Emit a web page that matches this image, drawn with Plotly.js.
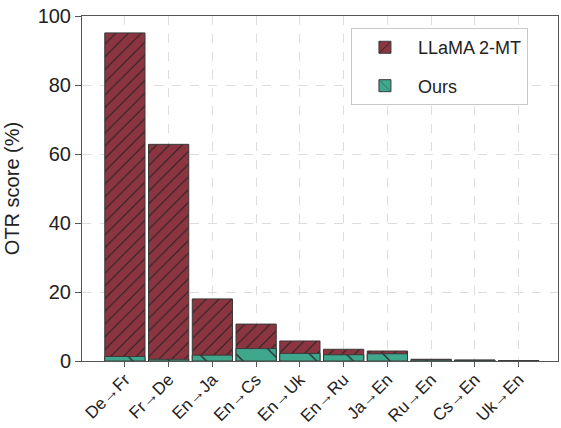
<!DOCTYPE html>
<html><head><meta charset="utf-8">
<script src="https://cdn.plot.ly/plotly-3.0.1.min.js"></script>
<style>body{margin:0;padding:0;background:#fff}#c{width:561px;height:428px}</style>
</head><body><div id="c"></div>
<script>
const categories = ["De→Fr","Fr→De","En→Ja","En→Cs","En→Uk","En→Ru","Ja→En","Ru→En","Cs→En","Uk→En"];
const llamaValues = [95.1, 62.8, 18.0, 10.7, 5.8, 3.4, 2.9, 0.5, 0.3, 0.1];
const oursValues = [1.3, 0.5, 1.7, 3.6, 2.2, 1.8, 2.1, 0.3, 0.2, 0.05];
const yTicks = [0, 20, 40, 60, 80, 100];

const font = "Liberation Sans, Arial, sans-serif";
const traces = [
  {type:"bar", name:"LLaMA 2-MT", legendgroup:"g1", x:categories, y:llamaValues, width:0.92,
   marker:{color:"#8b3540", line:{color:"#3a3a3a", width:1},
     pattern:{shape:"/", size:9, solidity:0.12, bgcolor:"#8b3540", fgcolor:"#1e1e1e", fgopacity:0.9}}},
  {type:"bar", name:"Ours", legendgroup:"g2", x:categories, y:oursValues, width:0.92,
   marker:{color:"#3fa78c", line:{color:"#3a3a3a", width:1},
     pattern:{shape:"\\", size:26, solidity:0.05, bgcolor:"#3fa78c", fgcolor:"#1e1e1e", fgopacity:0.9}}}
];
const layout = {
  width:561, height:428, barmode:"overlay",
  margin:{l:82, r:3, t:16, b:67},
  paper_bgcolor:"#fff", plot_bgcolor:"#fff",
  font:{family:font, color:"#222", size:18},
  showlegend:true,
  legend:{x:0.565, y:0.965, xanchor:"left", yanchor:"top", bordercolor:"#c8c8c8", borderwidth:1,
    bgcolor:"#fff", font:{size:18, family:font, color:"#222"}, tracegroupgap:12, itemwidth:56},
  xaxis:{type:"category", range:[-0.98, 9.9], tickangle:-45, tickfont:{size:17}, ticklabelstandoff:-4,
    showgrid:true, gridcolor:"#dddddd", griddash:"dash", gridwidth:1,
    showline:true, linecolor:"#555", linewidth:1, mirror:true, automargin:false,
    ticks:"outside", ticklen:5, tickcolor:"#555", zeroline:false},
  yaxis:{range:[0,100], tickvals:yTicks, tickfont:{size:20}, automargin:false,
    title:{text:"OTR score (%)", font:{size:20}, standoff:12},
    showgrid:true, gridcolor:"#dddddd", griddash:"dash", gridwidth:1,
    showline:true, linecolor:"#555", linewidth:1, mirror:true,
    ticks:"outside", ticklen:6, tickcolor:"#555", zeroline:false}
};
Plotly.newPlot("c", traces, layout, {displayModeBar:false});
</script></body></html>
